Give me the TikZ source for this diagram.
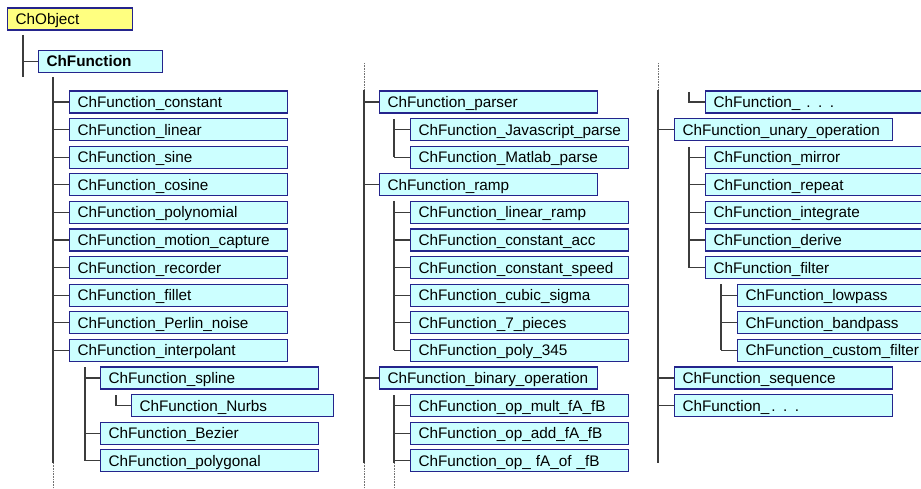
\documentclass[tikz,border=0pt]{standalone}
\usepackage{fontspec}
\setmainfont{Liberation Sans}
\definecolor{boxfill}{RGB}{204,255,255}
\definecolor{boxline}{RGB}{36,36,140}
\definecolor{objfill}{RGB}{255,255,128}
\definecolor{linkcol}{RGB}{60,60,60}
\begin{document}
\begin{tikzpicture}[x=1pt,y=-1pt,
  cls/.style={draw=boxline, fill=boxfill, line width=1.1pt, anchor=west,
    inner xsep=8pt, inner ysep=0pt, minimum height=22pt, align=left,
    text height=11pt, text depth=0pt, font=\fontsize{15.3}{18}\selectfont},
  wide/.style={cls, text width=202pt},
  narrow/.style={cls, text width=186pt},
  link/.style={draw=linkcol, line width=1.3pt},
  dots/.style={draw=black!55, line width=1pt, dash pattern=on 0.8pt off 0.8pt}]
\useasboundingbox (0,0) rectangle (921,489);
\clip (0,0) rectangle (921,489);

% ---------- root ----------
\node[cls, fill=objfill, text width=109pt] (obj) at (7,19) {ChObject};
\node[cls, text width=108pt, font=\fontsize{15.3}{18}\selectfont\bfseries] (fn) at (38,61.5) {ChFunction};
\coordinate (v0) at (23,35);
\coordinate (v1) at (23,77);
\draw[link] (v0) -- (v1);
\draw[link] (v0 |- fn.west) -- (fn.west);

% ---------- column 1 ----------
\node[wide] (c0) at (69,102)   {ChFunction\_constant};
\node[wide] (c1) at (69,129.6) {ChFunction\_linear};
\node[wide] (c2) at (69,157.2) {ChFunction\_sine};
\node[wide] (c3) at (69,184.8) {ChFunction\_cosine};
\node[wide] (c4) at (69,212.4) {ChFunction\_polynomial};
\node[wide] (c5) at (69,240)   {ChFunction\_motion\_capture};
\node[wide] (c6) at (69,267.6) {ChFunction\_recorder};
\node[wide] (c7) at (69,295.2) {ChFunction\_fillet};
\node[wide] (c8) at (69,322.8) {ChFunction\_Perlin\_noise};
\node[wide] (c9) at (69,350.4) {ChFunction\_interpolant};
\node[wide] (sp) at (100,378)  {ChFunction\_spline};
\node[narrow] (nu) at (131,405.6) {ChFunction\_Nurbs};
\node[wide] (bz) at (100,433.2) {ChFunction\_Bezier};
\node[wide] (pg) at (100,460.8) {ChFunction\_polygonal};

\coordinate (a0) at (53,77);
\coordinate (a1) at (53,463);
\coordinate (a2) at (53,489);
\draw[link] (a0) -- (a1);
\draw[dots] (a1) -- (a2);
\foreach \n in {c0,c1,c2,c3,c4,c5,c6,c7,c8,c9}
  \draw[link] (a0 |- \n.west) -- (\n.west);
\coordinate (b0) at (85,367);
\draw[link] (b0) -- (b0 |- pg.west);
\foreach \n in {sp,bz,pg}
  \draw[link] (b0 |- \n.west) -- (\n.west);
\coordinate (n0) at (116,395);
\draw[link] (n0) |- (nu.west);

% ---------- column 2 ----------
\node[wide] (pa) at (379,102)   {ChFunction\_parser};
\node[wide] (js) at (410,129.6) {ChFunction\_Javascript\_parse};
\node[wide] (ml) at (410,157.2) {ChFunction\_Matlab\_parse};
\node[wide] (ra) at (379,184.8) {ChFunction\_ramp};
\node[wide] (r1) at (410,212.4) {ChFunction\_linear\_ramp};
\node[wide] (r2) at (410,240)   {ChFunction\_constant\_acc};
\node[wide] (r3) at (410,267.6) {ChFunction\_constant\_speed};
\node[wide] (r4) at (410,295.2) {ChFunction\_cubic\_sigma};
\node[wide] (r5) at (410,322.8) {ChFunction\_7\_pieces};
\node[wide] (r6) at (410,350.4) {ChFunction\_poly\_345};
\node[wide] (bi) at (379,378)   {ChFunction\_binary\_operation};
\node[wide] (o1) at (410,405.6) {ChFunction\_op\_mult\_fA\_fB};
\node[wide] (o2) at (410,433.2) {ChFunction\_op\_add\_fA\_fB};
\node[wide] (o3) at (410,460.8) {ChFunction\_op\_ fA\_of \_fB};

\coordinate (d0) at (364,63);
\coordinate (d1) at (364,90);
\coordinate (d2) at (364,463);
\coordinate (d3) at (364,489);
\draw[dots] (d0) -- (d1);
\draw[link] (d1) -- (d2);
\draw[dots] (d2) -- (d3);
\foreach \n in {pa,ra,bi}
  \draw[link] (d1 |- \n.west) -- (\n.west);
\coordinate (e0) at (394,119);
\draw[link] (e0) -- (e0 |- ml.west);
\foreach \n in {js,ml}
  \draw[link] (e0 |- \n.west) -- (\n.west);
\coordinate (f0) at (394,201);
\draw[link] (f0) -- (f0 |- r6.west);
\foreach \n in {r1,r2,r3,r4,r5,r6}
  \draw[link] (f0 |- \n.west) -- (\n.west);
\coordinate (g0) at (394,395);
\coordinate (g1) at (394,463);
\coordinate (g2) at (394,489);
\draw[link] (g0) -- (g1);
\draw[dots] (g1) -- (g2);
\foreach \n in {o1,o2,o3}
  \draw[link] (g0 |- \n.west) -- (\n.west);

% ---------- column 3 ----------
\node[wide] (tp) at (705,102)   {ChFunction\_\hspace{6pt}.\hspace{7.5pt}.\hspace{7.5pt}.};
\node[wide] (un) at (674,129.6) {ChFunction\_unary\_operation};
\node[wide] (mi) at (705,157.2) {ChFunction\_mirror};
\node[wide] (rp) at (705,184.8) {ChFunction\_repeat};
\node[wide] (ig) at (705,212.4) {ChFunction\_integrate};
\node[wide] (dv) at (705,240)   {ChFunction\_derive};
\node[wide] (fi) at (705,267.6) {ChFunction\_filter};
\node[wide] (lp) at (737,295.2) {ChFunction\_lowpass};
\node[wide] (bp) at (737,322.8) {ChFunction\_bandpass};
\node[wide] (cf) at (737,350.4) {ChFunction\_custom\_filter};
\node[wide] (sq) at (674,378)   {ChFunction\_sequence};
\node[wide] (ls) at (674,405.6) {ChFunction\_\hspace{2pt}.\hspace{7.5pt}.\hspace{7.5pt}.};

\coordinate (h0) at (658,63);
\coordinate (h1) at (658,90);
\coordinate (h2) at (658,463);
\draw[dots] (h0) -- (h1);
\draw[link] (h1) -- (h2);
\foreach \n in {un,sq,ls}
  \draw[link] (h1 |- \n.west) -- (\n.west);
\coordinate (i0) at (689,92);
\draw[link] (i0) |- (tp.west);
\coordinate (j0) at (689,147);
\draw[link] (j0) -- (j0 |- fi.west);
\foreach \n in {mi,rp,ig,dv,fi}
  \draw[link] (j0 |- \n.west) -- (\n.west);
\coordinate (m0) at (721,284);
\draw[link] (m0) -- (m0 |- cf.west);
\foreach \n in {lp,bp,cf}
  \draw[link] (m0 |- \n.west) -- (\n.west);
\end{tikzpicture}
\end{document}
